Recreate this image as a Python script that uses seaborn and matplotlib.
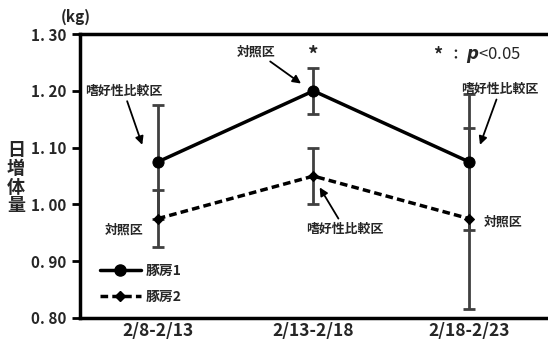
import matplotlib
matplotlib.use("Agg")
import matplotlib.pyplot as plt
import seaborn as sns
import pandas as pd
from matplotlib.lines import Line2D

# Periods and daily gain per pen (kg)
periods = ["2/8-2/13", "2/13-2/18", "2/18-2/23"]
pen1_gain = [1.075, 1.20, 1.075]
pen1_err = [0.10, 0.04, 0.12]
pen2_gain = [0.975, 1.05, 0.975]
pen2_err = [0.05, 0.05, 0.16]
series_names = ["豚房1", "豚房2"]
y_ticks = [0.80, 0.90, 1.00, 1.10, 1.20, 1.30]

sns.set_theme(style="white")
plt.rcParams["font.family"] = ["Noto Sans CJK JP", "DejaVu Sans"]
plt.rcParams["font.weight"] = "bold"

df = pd.DataFrame({
    "pos": list(range(len(periods))) * 2,
    "gain": pen1_gain + pen2_gain,
    "err": pen1_err + pen2_err,
    "pen": [series_names[0]] * 3 + [series_names[1]] * 3,
})

fig = plt.figure(figsize=(5.48, 3.47), dpi=100)
ax = fig.add_axes([0.146, 0.0836, 0.852, 0.818])

# Error bars (gray) underneath
for name in series_names:
    sub = df[df["pen"] == name]
    ax.errorbar(sub["pos"], sub["gain"], yerr=sub["err"], fmt="none",
                ecolor="#404040", elinewidth=2, capsize=4.5, capthick=2, zorder=1)

sns.lineplot(data=df, x="pos", y="gain", hue="pen", style="pen",
             palette=["black", "black"], markers={"豚房1": "o", "豚房2": "D"},
             dashes={"豚房1": "", "豚房2": (2.2, 1.2)}, markersize=8,
             linewidth=2.5, markeredgecolor="black", ax=ax, zorder=3, legend=False)
# smaller diamond markers for pen 2
for ln in ax.get_lines():
    if ln.get_marker() == "D":
        ln.set_markersize(5.5)

ax.set_xlim(-0.5, 2.5)
ax.set_ylim(0.80, 1.30)
ax.set_yticks(y_ticks)
ax.set_yticklabels([f"{v:.2f}".replace(".", ". ") for v in y_ticks], fontsize=11, fontweight="bold")
ax.set_xticks(range(len(periods)))
ax.set_xticklabels(periods, fontsize=12.5, fontweight="bold")
ax.set_xticks([0.5, 1.5], minor=True)
ax.tick_params(axis="x", which="major", length=0, pad=3)
ax.tick_params(axis="x", which="minor", length=4, width=2, direction="out", color="black")
ax.tick_params(axis="y", length=6, width=2, direction="out", color="black", left=True, pad=4)
ax.set_xlabel("")
ax.set_ylabel("")

for side in ["left", "bottom", "top"]:
    ax.spines[side].set_color("black")
    ax.spines[side].set_linewidth(2.5)
ax.spines["right"].set_visible(False)

# Legend
handles = [
    Line2D([], [], color="black", lw=2.5, marker="o", markersize=8),
    Line2D([], [], color="black", lw=2.5, marker="D", markersize=5.5, dashes=(2.2, 1.2)),
]
ax.legend(handles, series_names, loc="lower left", bbox_to_anchor=(0.015, 0.005),
          frameon=False, handlelength=3.0, labelspacing=0.9, handletextpad=0.3,
          prop={"size": 10, "weight": "bold"})

# Axis unit and label
fig.text(76 / 548, 1 - 17 / 347, "(kg)", ha="center", va="center", fontsize=11, fontweight="bold")
fig.text(16 / 548, 1 - 178 / 347, "日\n増\n体\n量", ha="center", va="center",
         fontsize=13, fontweight="bold", linespacing=0.95)

tfs = 9.3
arrow = dict(arrowstyle="-|>", color="black", lw=1.3, mutation_scale=12, shrinkA=0, shrinkB=0)
# Period 1 labels
ax.annotate("嗜好性比較区", xy=(-0.1, 1.105), xytext=(-0.22, 1.20), ha="center", va="center",
            fontsize=tfs, fontweight="bold", arrowprops=arrow)
ax.text(-0.22, 0.955, "対照区", ha="center", va="center", fontsize=tfs, fontweight="bold")
# Period 2 labels
ax.annotate("対照区", xy=(0.92, 1.213), xytext=(0.63, 1.27), ha="center", va="center",
            fontsize=tfs, fontweight="bold", arrowprops=arrow)
ax.text(1.0, 1.262, "*", ha="center", va="center", fontsize=15, fontweight="bold")
ax.annotate("嗜好性比較区", xy=(1.04, 1.03), xytext=(1.2, 0.957), ha="center", va="center",
            fontsize=tfs, fontweight="bold", arrowprops=arrow)
# Period 3 labels
ax.annotate("嗜好性比較区", xy=(2.07, 1.105), xytext=(2.2, 1.203), ha="center", va="center",
            fontsize=tfs, fontweight="bold", arrowprops=arrow)
ax.text(2.22, 0.97, "対照区", ha="center", va="center", fontsize=tfs, fontweight="bold")
# Significance note
ax.text(1.80, 1.263, "*", ha="center", va="center", fontsize=13, fontweight="bold")
ax.text(1.87, 1.263, "：", ha="left", va="center", fontsize=10, fontweight="bold")
ax.text(1.98, 1.263, r"$p$<0.05", ha="left", va="center", fontsize=12, fontweight="normal")

fig.savefig("out.png", dpi=100)
